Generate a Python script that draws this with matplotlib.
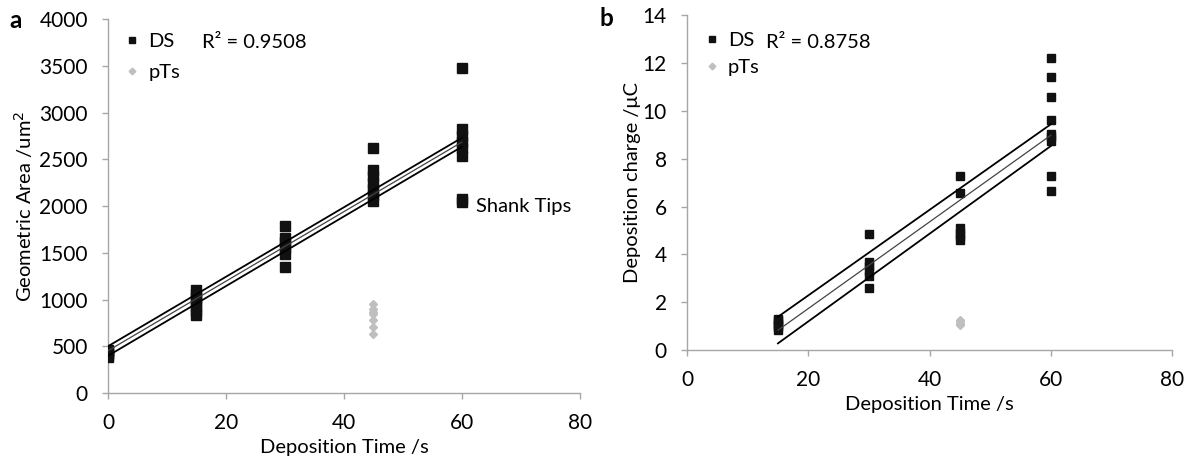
import matplotlib
matplotlib.use("Agg")
import matplotlib.pyplot as plt
import numpy as np

plt.rcParams['font.family'] = ['Lato', 'DejaVu Sans']

# ====== 資料 (a) 幾何面積 ======
a_ds_x = [0, 0, 0, 0, 0,
          15, 15, 15, 15, 15, 15, 15,
          30, 30, 30, 30, 30, 30,
          45, 45, 45, 45, 45, 45, 45,
          60, 60, 60, 60, 60, 60, 60, 60]
a_ds_y = [390, 410, 430, 445, 460,
          835, 880, 930, 980, 1020, 1060, 1100,
          1350, 1490, 1550, 1610, 1660, 1786,
          2050, 2120, 2180, 2250, 2320, 2380, 2620,
          2040, 2075, 2540, 2620, 2680, 2750, 2825, 3480]
a_pts_x = [45, 45, 45, 45, 45, 45, 45]
a_pts_y = [630, 710, 780, 840, 870, 900, 950]
a_trend_x = [0, 60]
a_trend_mid = [452, 2684]
a_trend_hi = [500, 2730]
a_trend_lo = [398, 2634]
a_r2 = "R² = 0.9508"

# ====== 資料 (b) 沉積電荷 ======
b_ds_x = [15, 15, 15, 15, 15, 15,
          30, 30, 30, 30, 30, 30,
          45, 45, 45, 45, 45, 45,
          60, 60, 60, 60, 60, 60, 60, 60, 60]
b_ds_y = [0.85, 0.95, 1.05, 1.15, 1.25, 1.32,
          2.60, 3.10, 3.30, 3.50, 3.70, 4.87,
          4.60, 4.75, 4.90, 5.10, 6.57, 7.28,
          6.64, 7.28, 8.75, 8.90, 9.05, 9.60, 10.56, 11.40, 12.22]
b_pts_x = [15, 45, 45, 45, 45, 45]
b_pts_y = [1.25, 1.05, 1.10, 1.15, 1.20, 1.25]
b_trend_x = [15, 60]
b_trend_mid = [0.83, 8.98]
b_trend_hi = [1.39, 9.44]
b_trend_lo = [0.28, 8.53]
b_r2 = "R² = 0.8758"

X_TICKS = [0, 20, 40, 60, 80]
A_Y_TICKS = [0, 500, 1000, 1500, 2000, 2500, 3000, 3500, 4000]
B_Y_TICKS = [0, 2, 4, 6, 8, 10, 12, 14]

AXIS_GRAY = '#A6A6A6'
FS = 14.5


def style_axes(ax):
    for side in ['top', 'right']:
        ax.spines[side].set_visible(False)
    for side in ['left', 'bottom']:
        ax.spines[side].set_color(AXIS_GRAY)
        ax.spines[side].set_linewidth(1.0)
    ax.tick_params(axis='both', colors=AXIS_GRAY, labelcolor='black',
                   labelsize=FS + 0.5, direction='out', length=4.5, width=1,
                   pad=10)


def draw_panel(ax, ds_x, ds_y, pts_x, pts_y, tx, t_mid, t_hi, t_lo, msize, spacing):
    ax.plot(pts_x, pts_y, linestyle='none', marker='D', markersize=4.5,
            color='#BFBFBF', label='pTs', zorder=2)
    ax.plot(ds_x, ds_y, linestyle='none', marker='s', markersize=msize,
            color='#111111', label='DS', zorder=3)
    ax.plot(tx, t_hi, color='black', lw=1.3, zorder=4)
    ax.plot(tx, t_lo, color='black', lw=1.3, zorder=4)
    ax.plot(tx, t_mid, color='#444444', lw=0.9, zorder=4)
    handles, labels = ax.get_legend_handles_labels()
    ax.legend(handles[::-1], labels[::-1], loc='upper left', frameon=False,
              fontsize=FS, handlelength=0.6, handletextpad=0.5,
              labelspacing=spacing, borderaxespad=0.0, markerscale=0.75)


fig = plt.figure(figsize=(11.96, 4.75), dpi=100)

# ====== 圖 a ======
ax_a = fig.add_axes([0.0903, 0.1726, 0.3946, 0.7874])
draw_panel(ax_a, a_ds_x, a_ds_y, a_pts_x, a_pts_y,
           a_trend_x, a_trend_mid, a_trend_hi, a_trend_lo, 6.5, 0.7)
ax_a.set_xlim(0, 80)
ax_a.set_ylim(0, 4000)
ax_a.set_xticks(X_TICKS)
ax_a.set_yticks(A_Y_TICKS)
style_axes(ax_a)
ax_a.get_legend().set_bbox_to_anchor((0.022, 0.985))
ax_a.text(0.2, 0.938, a_r2, transform=ax_a.transAxes, fontsize=FS, va='center')
ax_a.text(62.3, 2000, 'Shank Tips', fontsize=FS, va='center')
ax_a.set_xlabel('Deposition Time /s', fontsize=FS, labelpad=4)
ax_a.set_ylabel('Geometric Area /um$^2$', fontsize=FS, labelpad=3)

# ====== 圖 b ======
ax_b = fig.add_axes([0.5744, 0.263, 0.4056, 0.705])
draw_panel(ax_b, b_ds_x, b_ds_y, b_pts_x, b_pts_y,
           b_trend_x, b_trend_mid, b_trend_hi, b_trend_lo, 5.6, 0.5)
ax_b.set_xlim(0, 80)
ax_b.set_ylim(0, 14)
ax_b.set_xticks(X_TICKS)
ax_b.set_yticks(B_Y_TICKS)
style_axes(ax_b)
ax_b.get_legend().set_bbox_to_anchor((0.022, 0.975))
ax_b.text(0.163, 0.919, b_r2, transform=ax_b.transAxes, fontsize=FS, va='center')
ax_b.set_xlabel('Deposition Time /s', fontsize=FS, labelpad=4)
ax_b.set_ylabel('Deposition charge /μC', fontsize=FS, labelpad=1)

fig.text(0.008, 0.957, 'a', fontsize=FS + 3, fontweight='bold', va='center')
fig.text(0.501, 0.962, 'b', fontsize=FS + 3, fontweight='bold', va='center')

fig.savefig('out.png', dpi=100)
